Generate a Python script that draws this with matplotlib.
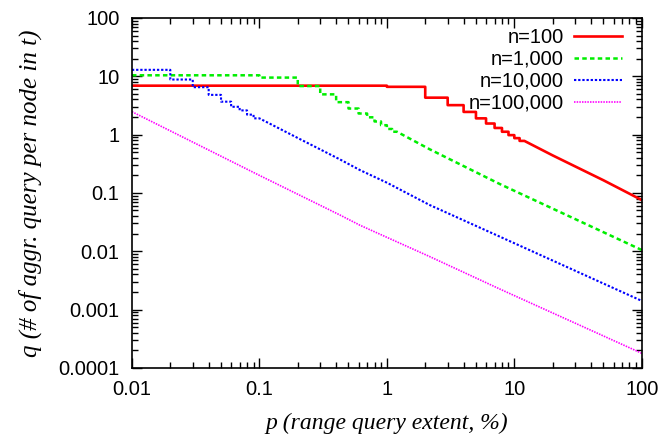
import numpy as np
import matplotlib
matplotlib.use("Agg")
import matplotlib.pyplot as plt
from matplotlib.ticker import LogLocator, FixedLocator, FixedFormatter, NullFormatter

# n=100: step edges (p, %) and the q value held on each interval, then the smooth tail
red_edges = [0.01, 1, 2, 3, 4, 5, 6, 7, 8, 9, 10, 11, 12]
red_vals = [6.9, 6.6, 4.3, 3.2, 2.45, 1.9, 1.55, 1.3, 1.12, 0.98, 0.87, 0.78]
red_tail_p = [20, 30, 50, 100]
red_tail_q = [0.44, 0.285, 0.165, 0.0755]

# n=1,000
green_edges = [0.01, 0.1, 0.2, 0.3, 0.4, 0.5, 0.6, 0.7, 0.8, 0.9, 1.0, 1.1, 1.2]
green_vals = [10.4, 9.5, 6.8, 4.9, 3.6, 2.8, 2.3, 1.98, 1.68, 1.45, 1.25, 1.12]
green_tail_p = [2.17, 7.7, 100]
green_tail_q = [0.56, 0.142, 0.0105]

# n=10,000
blue_edges = [0.01, 0.02, 0.03, 0.04, 0.05, 0.06, 0.07, 0.08, 0.09, 0.1]
blue_vals = [12.9, 8.8, 6.5, 4.8, 3.67, 3.0, 2.6, 2.2, 1.9]
blue_tail_p = [0.2, 0.427, 0.614, 1, 2.17, 7.7, 100]
blue_tail_q = [0.875, 0.377, 0.247, 0.15, 0.062, 0.0178, 0.00141]

# n=100,000
mag_p = [0.01, 0.1, 0.427, 0.614, 2.17, 7.7, 100]
mag_q = [2.47, 0.2, 0.042, 0.028, 0.0081, 0.00225, 0.000178]

labels = ["n=100", "n=1,000", "n=10,000", "n=100,000"]
xticks = [0.01, 0.1, 1, 10, 100]
xtick_labels = ["0.01", "0.1", "1", "10", "100"]
yticks = [0.0001, 0.001, 0.01, 0.1, 1, 10, 100]
ytick_labels = ["0.0001", "0.001", "0.01", "0.1", "1", "10", "100"]


def stair(edges, vals, tail_p=(), tail_q=()):
    # corner points of a step curve, followed by the tail points
    x = np.repeat(edges, 2)[1:-1]
    y = np.repeat(vals, 2)
    return np.concatenate([x, tail_p]), np.concatenate([y, tail_q])


fig = plt.figure(figsize=(6.63, 4.38), dpi=100)
ax = fig.add_axes([0.199, 0.16, 0.769, 0.799])

x, y = stair(red_edges, red_vals, red_tail_p, red_tail_q)
ax.plot(x, y, color="#ff0000", lw=1.9, label=labels[0])
x, y = stair(green_edges, green_vals, green_tail_p, green_tail_q)
ax.plot(x, y, color="#00ee00", lw=1.8, dashes=(1.8, 1.3), label=labels[1])
x, y = stair(blue_edges, blue_vals, blue_tail_p, blue_tail_q)
ax.plot(x, y, color="#0000ff", lw=1.5, dashes=(1.1, 0.9), label=labels[2])
ax.plot(mag_p, mag_q, color="#ff00ff", lw=1.2, dashes=(0.9, 0.7), label=labels[3])

ax.set_xscale("log")
ax.set_yscale("log")
ax.set_xlim(0.01, 100)
ax.set_ylim(0.0001, 100)

ax.xaxis.set_major_locator(FixedLocator(xticks))
ax.xaxis.set_major_formatter(FixedFormatter(xtick_labels))
ax.yaxis.set_major_locator(FixedLocator(yticks))
ax.yaxis.set_major_formatter(FixedFormatter(ytick_labels))
ax.xaxis.set_minor_locator(LogLocator(base=10, subs=np.arange(2, 10), numticks=20))
ax.yaxis.set_minor_locator(LogLocator(base=10, subs=np.arange(2, 10), numticks=20))
ax.xaxis.set_minor_formatter(NullFormatter())
ax.yaxis.set_minor_formatter(NullFormatter())

ax.tick_params(which="both", direction="in", top=True, right=True, width=1)
ax.tick_params(which="major", length=7, labelsize=14.5, pad=9)
ax.tick_params(which="minor", length=4)
for lab in ax.get_xticklabels() + ax.get_yticklabels():
    lab.set_fontfamily("Liberation Sans")
for s in ax.spines.values():
    s.set_linewidth(1.2)

ax.set_xlabel("p (range query extent, %)", fontfamily="Liberation Serif",
              style="italic", fontsize=17, labelpad=10)
ax.set_ylabel("q (# of aggr. query per node in t)", fontfamily="Liberation Serif",
              style="italic", fontsize=18, labelpad=12)

ax.legend(loc="upper right", frameon=False, markerfirst=False,
          prop={"family": "Liberation Sans", "size": 14.5},
          handlelength=2.4, handletextpad=0.5, labelspacing=0.15,
          borderaxespad=0.0, bbox_to_anchor=(0.977, 0.995))

fig.savefig("out.png", dpi=100)
